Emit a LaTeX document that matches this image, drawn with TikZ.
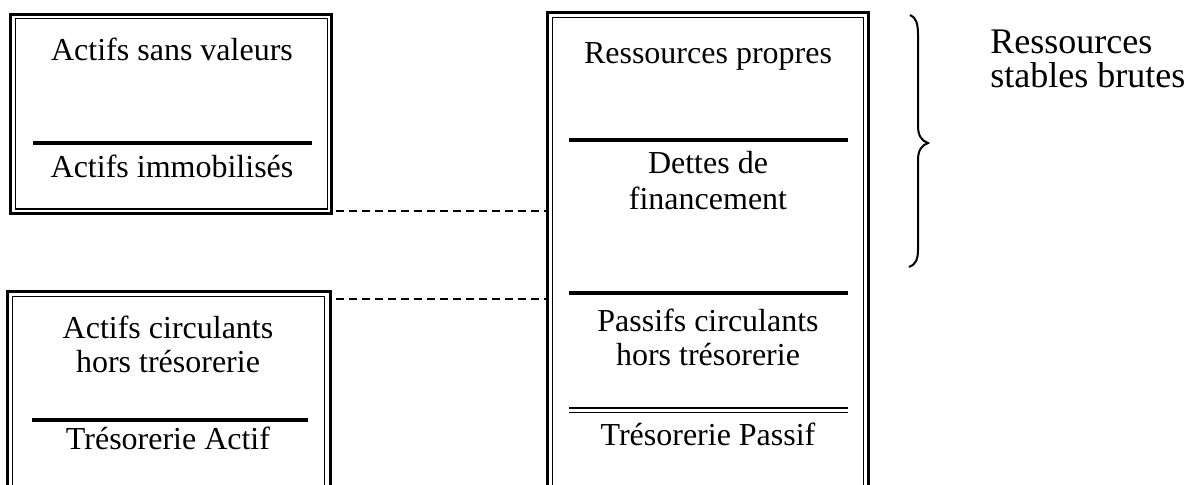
\documentclass[tikz,border=0pt]{standalone}
\usepackage{fontspec}
\setmainfont{Liberation Serif}
\begin{document}
\begin{tikzpicture}[x=0.5pt,y=-0.5pt,
  outerline/.style={line width=1.5pt},
  innerline/.style={line width=0.75pt},
  divider/.style={line width=2pt},
  thinrule/.style={line width=0.7pt},
  link/.style={line width=0.65pt,dash pattern=on 4pt off 2.5pt},
  bracepath/.style={line width=1pt},
  lbl/.style={anchor=base,inner sep=0pt,font=\fontsize{16}{18}\selectfont},
  sidelbl/.style={anchor=base west,inner sep=0pt,font=\fontsize{18}{17}\selectfont}]
\useasboundingbox (0,0) rectangle (1200,484);
\clip (0,0) rectangle (1200,484);
% left top box
\draw[outerline] (10.5,14) rectangle (331.5,213.5);
\draw[innerline] (15.3,18.7) rectangle (327.5,209);
\draw[divider] (33,143) -- (312,143);
\node[lbl] (asv) at (172,60) {Actifs sans valeurs};
\node[lbl] (aim) at (172,177) {Actifs immobilisés};
% left bottom box
\draw[outerline] (7.2,291.5) rectangle (330,520);
\draw[innerline] (12.5,296.5) rectangle (324.5,515);
\draw[divider] (32,420) -- (308,420);
\node[lbl] (ac1) at (168,338) {Actifs circulants};
\node[lbl] (ac2) at (168,372) {hors trésorerie};
\node[lbl] (ta) at (168,449) {Trésorerie Actif};
% right box
\draw[outerline] (547,12.5) rectangle (868,520);
\draw[innerline] (552.5,17.5) rectangle (863.3,515);
\draw[divider] (569,140) -- (848,140);
\draw[divider] (569,293) -- (848,293);
\draw[thinrule] (569,408) -- (848,408);
\draw[thinrule] (569,412.5) -- (848,412.5);
\node[lbl] (rp) at (708,63) {Ressources propres};
\node[lbl] (df1) at (708,173) {Dettes de};
\node[lbl] (df2) at (708,209) {financement};
\node[lbl] (pc1) at (708,331) {Passifs circulants};
\node[lbl] (pc2) at (708,365) {hors trésorerie};
\node[lbl] (tp) at (708,445) {Trésorerie Passif};
% dashed links
\coordinate (l1a) at (336,211);
\coordinate (l1b) at (546,211);
\coordinate (l2a) at (336,299);
\coordinate (l2b) at (546,299);
\draw[link] (l1a) -- (l1b);
\draw[link] (l2a) -- (l2b);
% brace
\draw[bracepath] (910,15) .. controls (916,17) and (918,24) .. (918,34) -- (918,126)
  .. controls (918,136) and (922,141) .. (928,143)
  .. controls (922,145) and (918,150) .. (918,160) -- (918,250)
  .. controls (918,260) and (915,265) .. (909,267);
\node[sidelbl] (rs1) at (990,53) {Ressources};
\node[sidelbl] (rs2) at (990,87) {stables brutes};
\end{tikzpicture}
\end{document}
